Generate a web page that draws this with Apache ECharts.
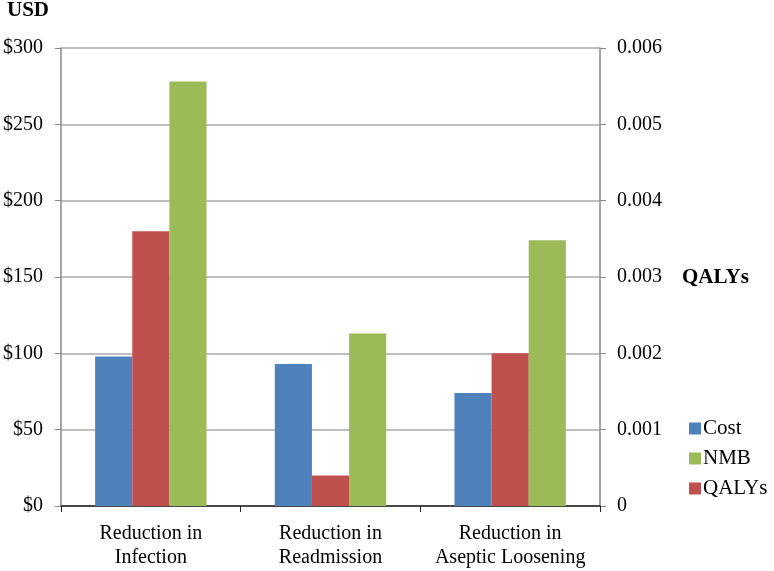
<!DOCTYPE html>
<html>
<head>
<meta charset="utf-8">
<script src="https://cdn.jsdelivr.net/npm/echarts@6/dist/echarts.min.js"></script>
<style>html,body{margin:0;padding:0;background:#fff}#c{width:774px;height:571px}</style>
</head>
<body>
<div id="c"></div>
<script>
var categories = ['Reduction in\nInfection', 'Reduction in\nReadmission', 'Reduction in\nAseptic Loosening'];
var costValues = [98, 93, 74];
var qalyValues = [0.0036, 0.0004, 0.002];
var nmbValues = [278, 113, 174];
var legendOrder = ['Cost', 'NMB', 'QALYs'];

var FONT = 'Liberation Serif';
var chart = echarts.init(document.getElementById('c'));
chart.setOption({
  animation: false,
  backgroundColor: '#fff',
  textStyle: { fontFamily: FONT, color: '#000' },
  grid: { left: 61, right: 174, top: 48, bottom: 65 },
  legend: {
    data: legendOrder,
    orient: 'vertical',
    left: 684, top: 413,
    itemWidth: 12, itemHeight: 12, itemGap: 9,
    icon: 'rect',
    textStyle: { fontFamily: FONT, fontSize: 21, color: '#000', padding: [0, 0, 0, -3] }
  },
  graphic: [
    { type: 'text', left: 7, top: 0, style: { text: 'USD', fontFamily: FONT, fontWeight: 'bold', fontSize: 21, fill: '#000' } },
    { type: 'text', left: 682, top: 267, style: { text: 'QALYs', fontFamily: FONT, fontWeight: 'bold', fontSize: 21, fill: '#000' } }
  ],
  xAxis: {
    type: 'category',
    data: categories,
    axisLine: { lineStyle: { color: '#222', width: 1.5 } },
    axisTick: { show: true, length: 6, lineStyle: { color: '#222' } },
    axisLabel: { fontFamily: FONT, fontSize: 20, color: '#000', lineHeight: 24, margin: 16, interval: 0 }
  },
  yAxis: [
    {
      type: 'value', min: 0, max: 300, interval: 50,
      axisLine: { show: true, lineStyle: { color: '#888', width: 1.5 } },
      axisTick: { show: true, length: 6, lineStyle: { color: '#888' } },
      splitLine: { lineStyle: { color: '#aaa', width: 1.5 } },
      axisLabel: { fontFamily: FONT, fontSize: 20, color: '#000', margin: 18, formatter: function (v) { return '$' + v; } }
    },
    {
      type: 'value', min: 0, max: 0.006, interval: 0.001,
      axisLine: { show: true, lineStyle: { color: '#888', width: 1.5 } },
      axisTick: { show: true, length: 6, lineStyle: { color: '#888' } },
      splitLine: { show: false },
      axisLabel: { fontFamily: FONT, fontSize: 20, color: '#000', margin: 17, formatter: function (v) { return v === 0 ? '0' : v.toFixed(3); } }
    }
  ],
  series: [
    { name: 'Cost', type: 'bar', yAxisIndex: 0, data: costValues, itemStyle: { color: '#4F81BD' }, barGap: '0%', barCategoryGap: '38%' },
    { name: 'QALYs', type: 'bar', yAxisIndex: 1, data: qalyValues, itemStyle: { color: '#C0504D' }, barGap: '0%', barCategoryGap: '38%' },
    { name: 'NMB', type: 'bar', yAxisIndex: 0, data: nmbValues, itemStyle: { color: '#9BBB59' }, barGap: '0%', barCategoryGap: '38%' }
  ]
});
</script>
</body>
</html>
